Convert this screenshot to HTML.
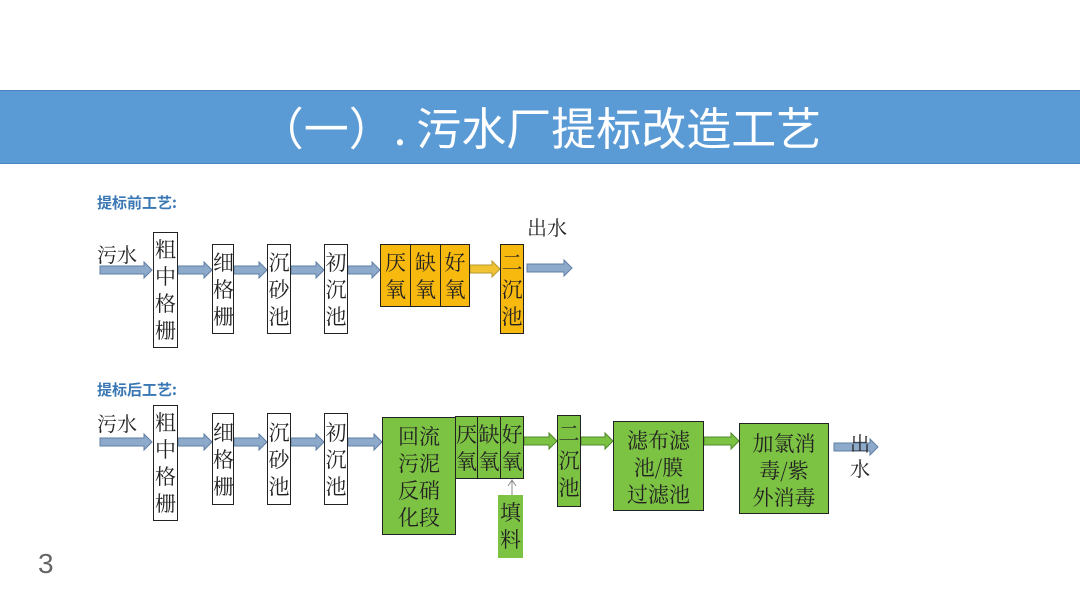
<!DOCTYPE html>
<html><head><meta charset="utf-8"><style>
html,body{margin:0;padding:0;background:#fff;}
body{width:1080px;height:607px;position:relative;overflow:hidden;font-family:"Liberation Sans","Noto Sans CJK SC",sans-serif;}
.band{position:absolute;left:0;top:90px;width:1080px;height:72px;background:#5b9bd5;border-top:1px solid #4a86bd;border-bottom:1px solid #4a86bd;}
.title{position:absolute;left:0;top:90px;width:1080px;height:72px;line-height:72px;text-align:center;color:#fff;font-size:45px;font-family:"Noto Sans CJK SC",sans-serif;}
.lbl{position:absolute;color:#3a78b5;font-weight:bold;font-size:15px;font-family:"Noto Sans CJK SC",sans-serif;}
.b{position:absolute;box-sizing:border-box;border:1.5px solid #222;font-family:"Noto Serif CJK SC","Noto Sans CJK SC",serif;font-size:21px;line-height:27px;text-align:center;color:#222;}
.o{background:#f8b90e;}
.g{background:#7cc243;}
.t{position:absolute;font-family:"Noto Serif CJK SC","Noto Sans CJK SC",serif;font-size:20px;color:#222;line-height:23px;}
svg{position:absolute;left:0;top:0;}
</style></head><body>
<div class="band"></div>
<div class="title">（一）. 污水厂提标改造工艺</div>
<div class="lbl" style="left:97px;top:192px;">提标前工艺:</div>
<div class="lbl" style="left:97px;top:379px;">提标后工艺:</div>
<div style="position:absolute;left:38px;top:548px;font-size:28px;color:#666;">3</div>

<svg width="1080" height="607">
<g fill="#8eaacb" stroke="#5f7fa5" stroke-width="1">
<polygon points="100,266 144,266 144,262 152,270 144,278 144,274 100,274"/>
<polygon points="178,266 204,266 204,262 212,270 204,278 204,274 178,274"/>
<polygon points="234,266 259,266 259,262 267,270 259,278 259,274 234,274"/>
<polygon points="291,266 316,266 316,262 324,270 316,278 316,274 291,274"/>
<polygon points="348,266 372,266 372,262 380,270 372,278 372,274 348,274"/>
<polygon points="527,264 564,264 564,260 572,268 564,276 564,272 527,272"/>
<polygon points="100,438 144,438 144,434 152,442 144,450 144,446 100,446"/>
<polygon points="178,438 204,438 204,434 212,442 204,450 204,446 178,446"/>
<polygon points="234,438 259,438 259,434 267,442 259,450 259,446 234,446"/>
<polygon points="291,438 316,438 316,434 324,442 316,450 316,446 291,446"/>
<polygon points="348,438 374,438 374,434 382,442 374,450 374,446 348,446"/>
<polygon points="834,443 870,443 870,439 878,447 870,455 870,451 834,451"/>
</g>
<polygon points="470,265 492,265 492,261 500,269 492,277 492,273 470,273" fill="#f1c232" stroke="#b89a30"/>
<g fill="#7cc243" stroke="#4f8a2a">
<polygon points="524,437 549,437 549,433 557,441 549,449 549,445 524,445"/>
<polygon points="581,437 605,437 605,433 613,441 605,449 605,445 581,445"/>
<polygon points="704,437 731,437 731,433 739,441 731,449 731,445 704,445"/>
</g>
<line x1="512" y1="481" x2="512" y2="495" stroke="#888" stroke-width="1"/>
<polyline points="508,486 512,480 516,486" fill="none" stroke="#888"/>
</svg>

<div class="t" style="left:97px;top:242px;">污水</div>
<div class="t" style="left:527px;top:215px;">出水</div>
<div class="b" style="left:153px;top:232px;width:25px;height:116px;padding-top:3px;">粗<br>中<br>格<br>栅</div>
<div class="b" style="left:212px;top:244px;width:22px;height:90px;padding-top:4px;">细<br>格<br>栅</div>
<div class="b" style="left:267px;top:244px;width:24px;height:90px;padding-top:4px;">沉<br>砂<br>池</div>
<div class="b" style="left:324px;top:244px;width:24px;height:90px;padding-top:4px;">初<br>沉<br>池</div>
<div class="b o" style="left:380px;top:244px;width:31px;height:63px;padding-top:4px;">厌<br>氧</div>
<div class="b o" style="left:410px;top:244px;width:31px;height:63px;padding-top:4px;">缺<br>氧</div>
<div class="b o" style="left:440px;top:244px;width:30px;height:63px;padding-top:4px;">好<br>氧</div>
<div class="b o" style="left:500px;top:244px;width:24px;height:90px;padding-top:4px;">二<br>沉<br>池</div>

<div class="t" style="left:97px;top:411px;">污水</div>
<div class="b" style="left:153px;top:405px;width:25px;height:116px;padding-top:3px;">粗<br>中<br>格<br>栅</div>
<div class="b" style="left:212px;top:413px;width:22px;height:92px;padding-top:5px;">细<br>格<br>栅</div>
<div class="b" style="left:267px;top:413px;width:24px;height:92px;padding-top:5px;">沉<br>砂<br>池</div>
<div class="b" style="left:324px;top:413px;width:24px;height:92px;padding-top:5px;">初<br>沉<br>池</div>
<div class="b g" style="left:382px;top:417px;width:74px;height:118px;padding-top:5px;">回流<br>污泥<br>反硝<br>化段</div>
<div class="b g" style="left:455px;top:416px;width:23px;height:63px;padding-top:4px;">厌<br>氧</div>
<div class="b g" style="left:477px;top:416px;width:24px;height:63px;padding-top:4px;">缺<br>氧</div>
<div class="b g" style="left:500px;top:416px;width:24px;height:63px;padding-top:4px;">好<br>氧</div>
<div class="b g" style="left:498px;top:495px;width:25px;height:63px;padding-top:4px;border:none;">填<br>料</div>
<div class="b g" style="left:557px;top:415px;width:24px;height:92px;padding-top:4px;">二<br>沉<br>池</div>
<div class="b g" style="left:613px;top:421px;width:91px;height:90px;padding-top:5px;">滤布滤<br>池/膜<br>过滤池</div>
<div class="b g" style="left:739px;top:423px;width:90px;height:91px;padding-top:6px;">加氯消<br>毒/紫<br>外消毒</div>
<div class="t" style="left:850px;top:430px;line-height:25px;">出<br>水</div>
</body></html>
